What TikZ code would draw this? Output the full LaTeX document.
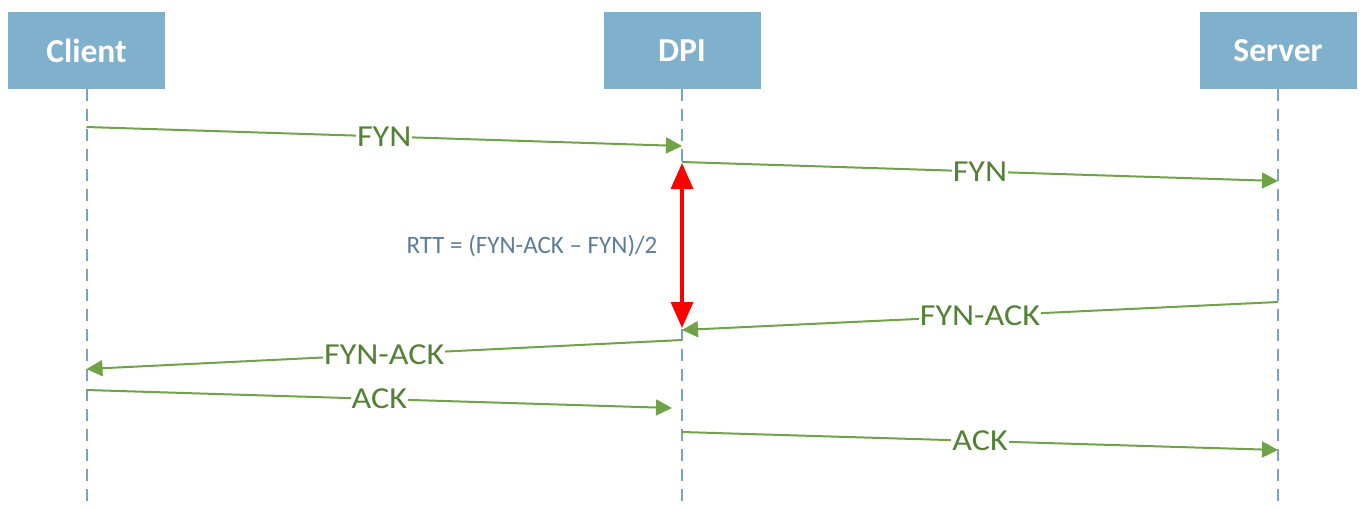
\documentclass[tikz,border=0pt]{standalone}
\usepackage{fontspec}
\setmainfont{Carlito}
\newfontfamily\labfont[FakeStretch=1.12]{Carlito}
\usetikzlibrary{arrows.meta}
\definecolor{boxblue}{RGB}{127,176,204}
\definecolor{lifeblue}{RGB}{120,162,205}
\definecolor{msggreen}{RGB}{112,163,72}
\definecolor{labgreen}{RGB}{84,130,53}
\definecolor{rttblue}{RGB}{92,124,153}
\begin{document}
\begin{tikzpicture}[x=1pt,y=-1pt,
 actor/.style={fill=boxblue, draw=none, minimum width=157pt, minimum height=77pt, inner sep=0pt, text=white, font=\fontsize{33.5}{38}\selectfont\bfseries},
 life/.style={lifeblue, line width=2pt, dash pattern=on 12pt off 8pt},
 msg/.style={msggreen, line width=2pt, -{Triangle[length=16pt,width=16pt]}},
 lab/.style={fill=white, text=labgreen, inner sep=1pt, font=\labfont\fontsize{30.5}{34}\selectfont},
 rtt/.style={red, line width=3.5pt, {Triangle[length=26pt,width=22pt]}-{Triangle[length=26pt,width=22pt]}}
]
\path[use as bounding box] (0,0) rectangle (1363,507);
\node[actor] (C) at (86.5,50.5) {Client};
\node[actor] (D) at (682,50.5) {DPI};
\node[actor] (S) at (1278,50.5) {Server};
\coordinate (Ce) at (86.5,507);
\coordinate (De) at (682,507);
\coordinate (Se) at (1278,507);
\draw[life] (C.south) -- (Ce);
\draw[life] (D.south) -- (De);
\draw[life] (S.south) -- (Se);
% message endpoints
\coordinate (c1) at (86.5,127);  \coordinate (d1) at (682,146);
\coordinate (d2) at (682,162);   \coordinate (s2) at (1278,181);
\coordinate (s3) at (1278,302);  \coordinate (d3) at (682,330);
\coordinate (d4) at (682,340);   \coordinate (c4) at (86.5,369);
\coordinate (c5) at (86.5,390);  \coordinate (d5) at (672,408);
\coordinate (d6) at (682,432);   \coordinate (s6) at (1278,450);
\draw[msg] (c1) -- node[lab]{FYN} (d1);
\draw[msg] (d2) -- node[lab]{FYN} (s2);
\draw[msg] (s3) -- node[lab]{FYN-ACK} (d3);
\draw[msg] (d4) -- node[lab]{FYN-ACK} (c4);
\draw[msg] (c5) -- node[lab]{ACK} (d5);
\draw[msg] (d6) -- node[lab]{ACK} (s6);
% RTT
\coordinate (r1) at (682,163);
\coordinate (r2) at (682,328);
\draw[rtt] (r1) -- (r2);
\node[text=rttblue, font=\fontsize{25}{30}\selectfont] (rt) at (532,246) {RTT = (FYN-ACK – FYN)/2};
\end{tikzpicture}
\end{document}
